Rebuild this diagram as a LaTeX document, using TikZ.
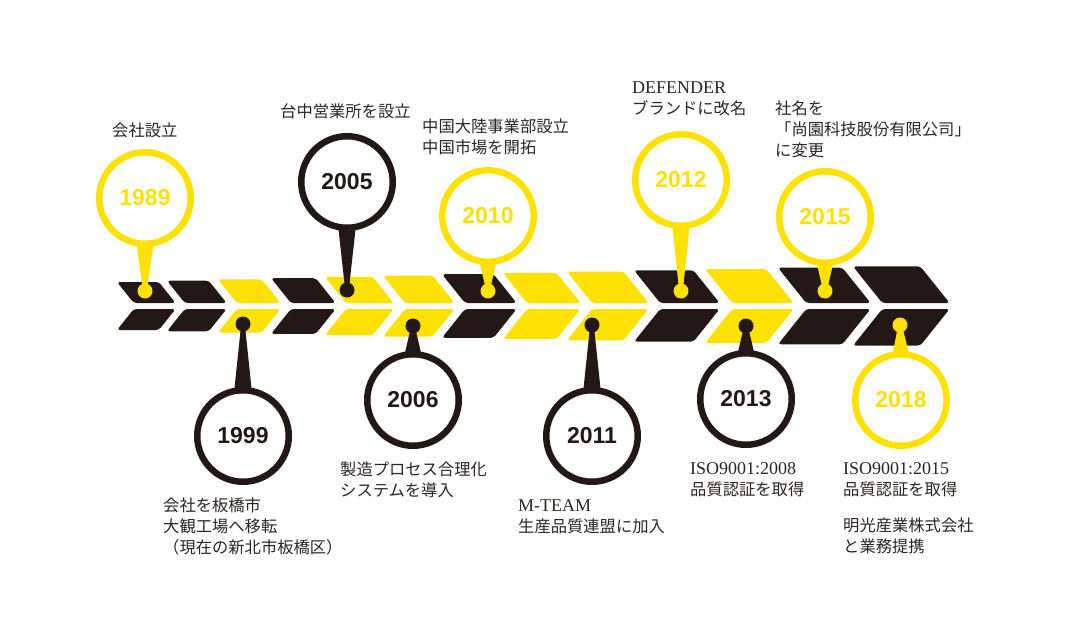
\documentclass[tikz,border=0pt]{standalone}
\usepackage{fontspec}
\usepackage{xcolor}
\usepackage{tikz}
\usetikzlibrary{calc}
\newfontfamily\jpfont{Noto Sans CJK JP}
\newfontfamily\latinfont{Liberation Serif}
\newfontfamily\yearfont{Liberation Sans}
\definecolor{tlyellow}{HTML}{FFE100}
\definecolor{tlblack}{HTML}{231815}
\definecolor{tltext}{HTML}{2B2523}

\begin{document}
\begin{tikzpicture}[x=1pt,y=-1pt,
    balloon/.style={circle, line width=6.5pt, fill=white, minimum size=91.5pt, inner sep=0pt,
        font=\yearfont\bfseries\fontsize{23}{23}\selectfont},
    pindot/.style={circle, minimum size=15pt, inner sep=0pt},
    note/.style={anchor=north west, inner sep=0pt, align=left, text=tltext,
        font=\jpfont\fontsize{16.3}{21}\selectfont}]
    \useasboundingbox (0,0) rectangle (1077,643);

    % chevron band: left x / tip x / half height / colour
    \foreach \L/\T/\h/\c in {117/178/24/tlblack, 167/229/25.3/tlblack, 218/283/26.6/tlyellow,
        271/338/27.9/tlblack, 325/396/29.2/tlyellow, 383/457/30.5/tlyellow, 442/519/31.8/tlblack,
        503/583/33.1/tlyellow, 567/651/34.4/tlyellow, 634/722/35.7/tlblack, 705/796/37/tlyellow,
        778/873/38.3/tlblack, 853/952/39.6/tlblack} {
        \fill[\c, rounded corners=3pt] (\L,306-\h) -- (\T-0.8*\h,306-\h) -- (\T-2.4,303)
            -- (\L+0.8*\h-2.4,303) -- cycle;
        \fill[\c, rounded corners=3pt] (\L+0.8*\h-2.4,309) -- (\T-2.4,309) -- (\T-0.8*\h,306+\h)
            -- (\L,306+\h) -- cycle;
    }

    % balloons: year / centre / dot / colour / side
    \foreach \yr/\cx/\cy/\dx/\dy/\c/\s in {1989/145/198/145/291/tlyellow/1,
        2005/347/182/347/290/tlblack/1, 2010/488/216/488/291/tlyellow/1,
        2012/681/180/681/291/tlyellow/1, 2015/825/217/825/291/tlyellow/1,
        1999/243/436/243/324/tlblack/-1, 2006/413/400/413/326/tlblack/-1,
        2011/592/436/592/325/tlblack/-1, 2013/746/399/746/326/tlblack/-1,
        2018/901/400/900/325/tlyellow/-1} {
        \node[balloon, draw=\c, text=\c] (b\yr) at (\cx,\cy) {\yr};
        \node[pindot, fill=\c] (d\yr) at (\dx,\dy) {};
        \fill[\c] ($(b\yr.center)+(-9,\s*43)$) -- ($(d\yr.center)+(-1.8,0)$)
            -- ($(d\yr.center)+(1.8,0)$) -- ($(b\yr.center)+(9,\s*43)$) -- cycle;
    }

    % texts
    \node[note] (t1989) at (112,123) {会社設立};
    \node[note] (t2005) at (280,104) {台中営業所を設立};
    \node[note] (t2010) at (422,119) {中国大陸事業部設立\\中国市場を開拓};
    \node[note] (t2012) at (632,82) {{\latinfont\fontsize{18}{21}\selectfont DEFENDER}\\ブランドに改名};
    \node[note] (t2015) at (775,101) {社名を\\「尚園科技股份有限公司」\\に変更};
    \node[note] (t1999) at (163,498) {会社を板橋市\\大観工場へ移転\\（現在の新北市板橋区）};
    \node[note] (t2006) at (340,462) {製造プロセス合理化\\システムを導入};
    \node[note] (t2011) at (518,499) {{\latinfont\fontsize{18}{21}\selectfont M-TEAM}\\生産品質連盟に加入};
    \node[note] (t2013) at (690,462) {{\latinfont\fontsize{18}{21}\selectfont ISO9001:2008}\\品質認証を取得};
    \node[note] (t2018) at (843,462) {{\latinfont\fontsize{18}{21}\selectfont ISO9001:2015}\\品質認証を取得};
    \node[note] (t2018b) at (843,518) {明光産業株式会社\\と業務提携};
\end{tikzpicture}
\end{document}
